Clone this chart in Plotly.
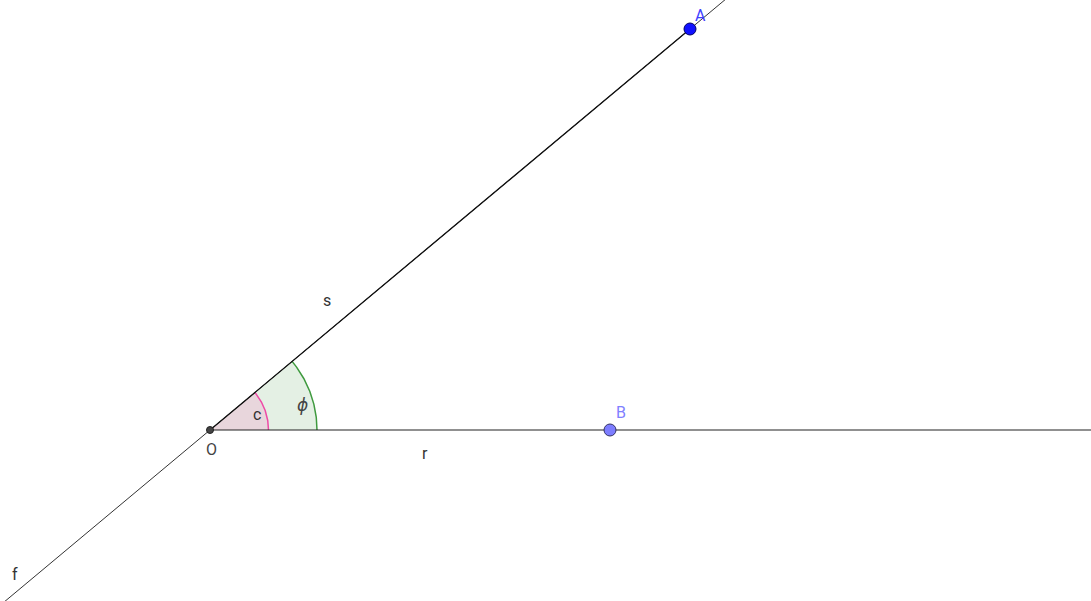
import numpy as np
import plotly.graph_objects as go

# Data
point_names = ["O", "A", "B"]
point_x = [0.0, 4.80, 4.00]
point_y = [0.0, 4.01, 0.0]
angle_names = ["c", "ϕ"]
angle_radii = [0.585, 1.07]

O = np.array([point_x[0], point_y[0]])
A = np.array([point_x[1], point_y[1]])
B = np.array([point_x[2], point_y[2]])
theta = np.arctan2(A[1] - O[1], A[0] - O[0])

fig = go.Figure()

def sector(r, fill, line):
    t = np.linspace(0, theta, 80)
    xs = np.concatenate([[O[0]], O[0] + r * np.cos(t), [O[0]]])
    ys = np.concatenate([[O[1]], O[1] + r * np.sin(t), [O[1]]])
    fig.add_trace(go.Scatter(x=xs, y=ys, mode="lines", fill="toself", fillcolor=fill,
                             line=dict(width=0), hoverinfo="skip", showlegend=False))
    fig.add_trace(go.Scatter(x=O[0] + r * np.cos(t), y=O[1] + r * np.sin(t), mode="lines",
                             line=dict(color=line, width=1.5), hoverinfo="skip", showlegend=False))

sector(angle_radii[1], "rgba(228,240,228,1)", "#3f9a3f")
sector(angle_radii[0], "rgba(232,214,220,1)", "#ee4aa6")

# line f through O and A
d = A - O
fig.add_trace(go.Scatter(x=[O[0] - 5 * d[0], O[0] + 5 * d[0]], y=[O[1] - 5 * d[1], O[1] + 5 * d[1]],
                         mode="lines", line=dict(color="#333333", width=1), showlegend=False))
# ray r from O through B
db = B - O
fig.add_trace(go.Scatter(x=[O[0], O[0] + 10 * db[0]], y=[O[1], O[1] + 10 * db[1]],
                         mode="lines", line=dict(color="#222222", width=1.1), showlegend=False))
# segment s from O to A
fig.add_trace(go.Scatter(x=[O[0], A[0]], y=[O[1], A[1]],
                         mode="lines", line=dict(color="#111111", width=1.3), showlegend=False))

# points
fig.add_trace(go.Scatter(x=[point_x[0]], y=[point_y[0]], mode="markers",
                         marker=dict(size=7, color="#444444", line=dict(color="#222222", width=1)), showlegend=False))
fig.add_trace(go.Scatter(x=[point_x[1]], y=[point_y[1]], mode="markers",
                         marker=dict(size=12, color="#1010ff", line=dict(color="#000066", width=1)), showlegend=False))
fig.add_trace(go.Scatter(x=[point_x[2]], y=[point_y[2]], mode="markers",
                         marker=dict(size=12, color="#7d7dff", line=dict(color="#333366", width=1)), showlegend=False))

font = "Roboto, DejaVu Sans, sans-serif"
labels = [
    (point_names[1], A[0] + 0.10, A[1] + 0.14, "#3f3fff", 16),
    (point_names[2], B[0] + 0.11, B[1] + 0.18, "#8080ff", 16),
    (point_names[0], O[0] + 0.01, O[1] - 0.19, "#444444", 16),
    ("s", 1.17, 1.30, "#333333", 16),
    ("r", 2.15, -0.23, "#333333", 16),
    ("f", -1.95, -1.44, "#333333", 16),
    (angle_names[0], 0.47, 0.16, "#333333", 16),
    ("<i>" + angle_names[1] + "</i>", 0.92, 0.25, "#444444", 17),
]
for txt, x, y, col, sz in labels:
    fig.add_annotation(x=x, y=y, text=txt, showarrow=False, font=dict(family=font, size=sz, color=col))

fig.update_layout(
    width=1091, height=601, margin=dict(l=0, r=0, t=0, b=0),
    paper_bgcolor="white", plot_bgcolor="white",
    xaxis=dict(range=[-2.10, 8.81], visible=False, fixedrange=True),
    yaxis=dict(range=[-1.71, 4.30], visible=False, fixedrange=True),
    showlegend=False,
)
fig.write_html("out.html", config={"displayModeBar": False},
               post_script="document.body.style.margin='0';document.body.style.overflow='hidden';")
